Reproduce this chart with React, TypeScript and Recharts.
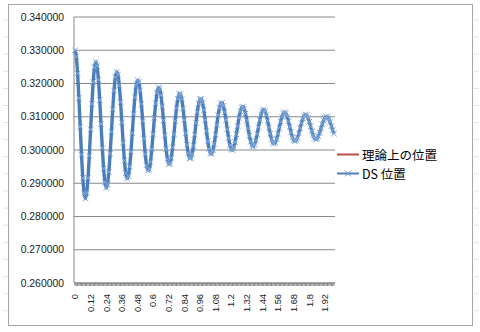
import { CartesianGrid, Line, LineChart, XAxis, YAxis } from 'recharts';

// time in seconds, one sample every 0.01 s
const times = Array.from({ length: 200 }, (_, i) => Number((i * 0.01).toFixed(2)));

const dsPosition = [
  0.33, 0.3281, 0.323, 0.3156, 0.307, 0.2986, 0.2916, 0.287, 0.2854, 0.2871,
  0.2916, 0.2983, 0.3062, 0.3139, 0.3205, 0.3249, 0.3265, 0.3252, 0.3211, 0.315,
  0.3078, 0.3006, 0.2944, 0.2903, 0.2886, 0.2897, 0.2934, 0.2989, 0.3055, 0.3122,
  0.3179, 0.3219, 0.3235, 0.3227, 0.3194, 0.3144, 0.3083, 0.3022, 0.2968, 0.293,
  0.2914, 0.2921, 0.295, 0.2995, 0.3051, 0.3108, 0.3158, 0.3194, 0.321, 0.3205,
  0.3179, 0.3138, 0.3087, 0.3034, 0.2987, 0.2954, 0.2938, 0.2941, 0.2964, 0.3002,
  0.3048, 0.3097, 0.314, 0.3172, 0.3188, 0.3185, 0.3165, 0.3131, 0.3089, 0.3044,
  0.3003, 0.2973, 0.2958, 0.2959, 0.2977, 0.3008, 0.3047, 0.3088, 0.3126, 0.3154,
  0.3169, 0.3169, 0.3153, 0.3125, 0.309, 0.3051, 0.3016, 0.299, 0.2975, 0.2975,
  0.2988, 0.3013, 0.3046, 0.3082, 0.3114, 0.3139, 0.3153, 0.3154, 0.3142, 0.312,
  0.309, 0.3057, 0.3027, 0.3003, 0.299, 0.2988, 0.2999, 0.3019, 0.3046, 0.3076,
  0.3105, 0.3127, 0.314, 0.3142, 0.3133, 0.3114, 0.309, 0.3062, 0.3036, 0.3015,
  0.3002, 0.3, 0.3008, 0.3024, 0.3047, 0.3072, 0.3097, 0.3116, 0.3128, 0.3131,
  0.3124, 0.311, 0.3089, 0.3065, 0.3043, 0.3025, 0.3013, 0.301, 0.3016, 0.3029,
  0.3048, 0.3069, 0.309, 0.3107, 0.3118, 0.3122, 0.3117, 0.3105, 0.3088, 0.3068,
  0.3049, 0.3032, 0.3022, 0.3019, 0.3023, 0.3033, 0.3049, 0.3067, 0.3085, 0.31,
  0.311, 0.3114, 0.311, 0.3101, 0.3086, 0.307, 0.3053, 0.3039, 0.303, 0.3026,
  0.3029, 0.3037, 0.305, 0.3066, 0.3081, 0.3094, 0.3103, 0.3107, 0.3105, 0.3097,
  0.3085, 0.3071, 0.3057, 0.3044, 0.3036, 0.3032, 0.3034, 0.3041, 0.3052, 0.3065,
  0.3078, 0.3089, 0.3097, 0.3101, 0.3099, 0.3093, 0.3084, 0.3072, 0.306, 0.3049,
];

const xTickLabels = [
  '0', '0.12', '0.24', '0.36', '0.48', '0.6', '0.72', '0.84', '0.96',
  '1.08', '1.2', '1.32', '1.44', '1.56', '1.68', '1.8', '1.92',
];
const yTicks = [0.26, 0.27, 0.28, 0.29, 0.3, 0.31, 0.32, 0.33, 0.34];

const legendItems = ['理論上の位置', 'DS 位置'];

const data = times.map((t, i) => ({ t: String(t), ds: dsPosition[i] }));

const BLUE = '#4A7EBB';
const RED = '#BE4B48';
const AXIS = '#868686';
const FONT = 'Arial, "Liberation Sans", sans-serif';

function TimeTick({ x, y, payload }: any) {
  const show = xTickLabels.includes(payload.value);
  return (
    <g>
      <line x1={x} y1={y} x2={x} y2={y + 3} stroke={AXIS} strokeWidth={1} />
      {show && (
        <text
          x={x}
          y={y + 11}
          dy={3.3}
          transform={`rotate(-90, ${x}, ${y + 11})`}
          textAnchor="end"
          fontSize={9.3}
          fontFamily={FONT}
          fill="#1a1a1a"
        >
          {payload.value}
        </text>
      )}
    </g>
  );
}

function XMark({ cx, cy, color = '#86AADB' }: any) {
  if (cx == null || cy == null) return null;
  const s = 2.8;
  return (
    <path
      d={`M${cx - s},${cy - s}L${cx + s},${cy + s}M${cx - s},${cy + s}L${cx + s},${cy - s}`}
      stroke={color}
      strokeWidth={1}
      fill="none"
    />
  );
}

export default function App() {
  const rows = Array.from({ length: 18 }, (_, i) => 20 + i * 17.1);
  return (
    <div style={{ position: 'absolute', left: 0, top: 0, width: 480, height: 332, background: '#fff' }}>
      <LineChart
        width={480}
        height={332}
        data={data}
        margin={{ top: 17, right: 145, bottom: 9, left: 0 }}
      >
        <CartesianGrid vertical={false} stroke="#8a8a8a" strokeWidth={1} />
        <XAxis
          dataKey="t"
          scale="point"
          padding={{ left: 1, right: 1 }}
          interval={0}
          height={40}
          tickSize={0}
          tickMargin={0}
          tickLine={false}
          stroke={AXIS}
          tick={<TimeTick />}
        />
        <YAxis
          width={74}
          domain={[0.26, 0.34]}
          ticks={yTicks}
          allowDataOverflow
          tickFormatter={(v: number) => v.toFixed(6)}
          tickSize={0}
          tickMargin={10}
          tickLine={false}
          stroke={AXIS}
          tick={{ fontSize: 10.4, fontFamily: FONT, fill: '#1a1a1a' }}
        />
        <Line
          type="monotone"
          dataKey="ds"
          name={legendItems[1]}
          stroke={BLUE}
          strokeWidth={3.4}
          dot={(p: any) => <XMark key={p.index} cx={p.cx} cy={p.cy} />}
          activeDot={false}
          isAnimationActive={false}
        />
      </LineChart>
      <svg
        width={480}
        height={332}
        style={{ position: 'absolute', left: 0, top: 0, pointerEvents: 'none' }}
      >
        {rows.map((ry) => (
          <g key={ry}>
            <line x1={3} x2={8} y1={ry} y2={ry} stroke="#dfe3e8" />
            <line x1={474} x2={479} y1={ry} y2={ry} stroke="#dfe3e8" />
          </g>
        ))}
        <rect x={8.5} y={4.5} width={464} height={321} fill="none" stroke="#a6a6a6" />
        <line x1={337} x2={359} y1={154.5} y2={154.5} stroke={RED} strokeWidth={2} />
        <text x={362} y={154.5} dominantBaseline="central" fontSize={12.5} fontFamily='"Noto Sans CJK JP", sans-serif' fill="#000">
          {legendItems[0]}
        </text>
        <line x1={337} x2={359} y1={173.5} y2={173.5} stroke={BLUE} strokeWidth={2} />
        <XMark cx={348} cy={173.5} color="#6f98d0" />
        <text x={362} y={173.5} dominantBaseline="central" fontSize={12.5} fontFamily='"Noto Sans CJK JP", sans-serif' fill="#000">
          {legendItems[1]}
        </text>
      </svg>
    </div>
  );
}
